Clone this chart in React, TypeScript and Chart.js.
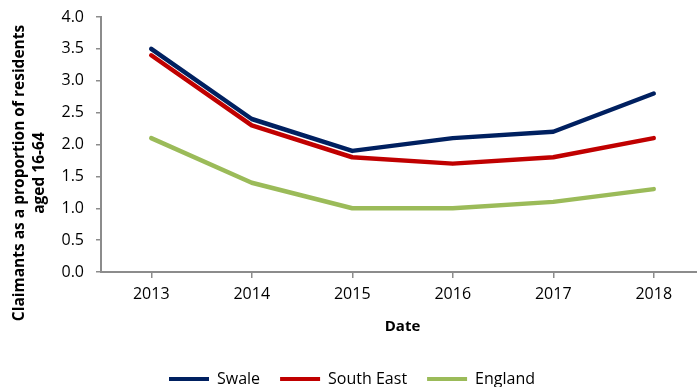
import React, { useEffect, useRef } from "react";
import { Chart, registerables } from "chart.js";

Chart.register(...registerables);

const years = ["2013", "2014", "2015", "2016", "2017", "2018"];
const swale = [3.5, 2.4, 1.9, 2.1, 2.2, 2.8];
const southEast = [3.4, 2.3, 1.8, 1.7, 1.8, 2.1];
const england = [2.1, 1.4, 1.0, 1.0, 1.1, 1.3];

const yTitleLines = ["Claimants as a proportion of residents", "aged 16-64"];
const xTitle = "Date";

const FONT = "'Open Sans', Lato, sans-serif";
const AXIS_COLOR = "#8c8c8c";

// Two-line rotated title beside the value axis
const yTitlePlugin = {
  id: "yTitle",
  afterDraw(chart: any) {
    const { ctx } = chart;
    ctx.save();
    ctx.font = `bold 15.5px ${FONT}`;
    ctx.fillStyle = "#000";
    ctx.textAlign = "center";
    ctx.textBaseline = "middle";
    ctx.translate(0, 173);
    ctx.rotate(-Math.PI / 2);
    yTitleLines.forEach((line, i) => {
      ctx.fillText(line, 0, 20 + i * 20);
    });
    ctx.restore();
  },
};

export default function App() {
  const canvasRef = useRef<HTMLCanvasElement | null>(null);

  useEffect(() => {
    const canvas = canvasRef.current;
    if (!canvas) return;
    const chart = new Chart(canvas, {
      type: "line",
      data: {
        labels: years,
        datasets: [
          { label: "Swale", data: swale, borderColor: "#002060", backgroundColor: "#002060" },
          { label: "South East", data: southEast, borderColor: "#C00000", backgroundColor: "#C00000" },
          { label: "England", data: england, borderColor: "#9BBB59", backgroundColor: "#9BBB59" },
        ].map((d) => ({
          ...d,
          borderWidth: 4.5,
          pointRadius: 0,
          tension: 0,
          borderCapStyle: "round" as const,
          borderJoinStyle: "round" as const,
        })),
      },
      options: {
        responsive: false,
        animation: false,
        devicePixelRatio: 1,
        layout: { padding: { left: 0, right: 8, top: 17, bottom: -10 } },
        plugins: {
          tooltip: { enabled: false },
          legend: {
            position: "bottom",
            labels: {
              boxWidth: 40,
              boxHeight: 4,
              padding: 20,
              color: "#000",
              font: { family: FONT, size: 16 },
              generateLabels(chart: any) {
                return chart.data.datasets.map((ds: any, i: number) => ({
                  text: ds.label,
                  fillStyle: ds.borderColor,
                  strokeStyle: ds.borderColor,
                  lineWidth: 0,
                  hidden: false,
                  datasetIndex: i,
                  fontColor: "#000",
                }));
              },
            },
          },
        },
        scales: {
          x: {
            type: "category",
            offset: true,
            grid: { drawOnChartArea: false, drawTicks: true, tickLength: 6, color: AXIS_COLOR, lineWidth: 1.5 },
            border: { color: AXIS_COLOR, width: 2 },
            ticks: { color: "#000", font: { family: FONT, size: 16 }, padding: 7, maxRotation: 0 },
            title: {
              display: true,
              text: xTitle,
              color: "#000",
              font: { family: FONT, size: 15, weight: "bold" },
              padding: { top: 4, bottom: 15 },
            },
            afterFit(scale: any) {
              scale.height = 79;
            },
          },
          y: {
            min: 0,
            max: 4,
            grid: { drawOnChartArea: false, drawTicks: true, tickLength: 5, color: AXIS_COLOR, lineWidth: 1.5 },
            border: { color: AXIS_COLOR, width: 2 },
            ticks: {
              stepSize: 0.5,
              color: "#000",
              font: { family: FONT, size: 16 },
              padding: 12,
              callback: (v: any) => Number(v).toFixed(1),
            },
            afterFit(scale: any) {
              scale.width = 101;
              scale.paddingTop = 0;
              scale.paddingBottom = 0;
            },
          },
        },
      },
      plugins: [yTitlePlugin],
    });
    return () => chart.destroy();
  }, []);

  return (
    <div
      style={{
        position: "absolute",
        left: 0,
        top: 0,
        width: 697,
        height: 387,
        overflow: "hidden",
        background: "#fff",
      }}
    >
      <canvas ref={canvasRef} width={712} height={387} style={{ width: 712, height: 387, display: "block" }} />
    </div>
  );
}
